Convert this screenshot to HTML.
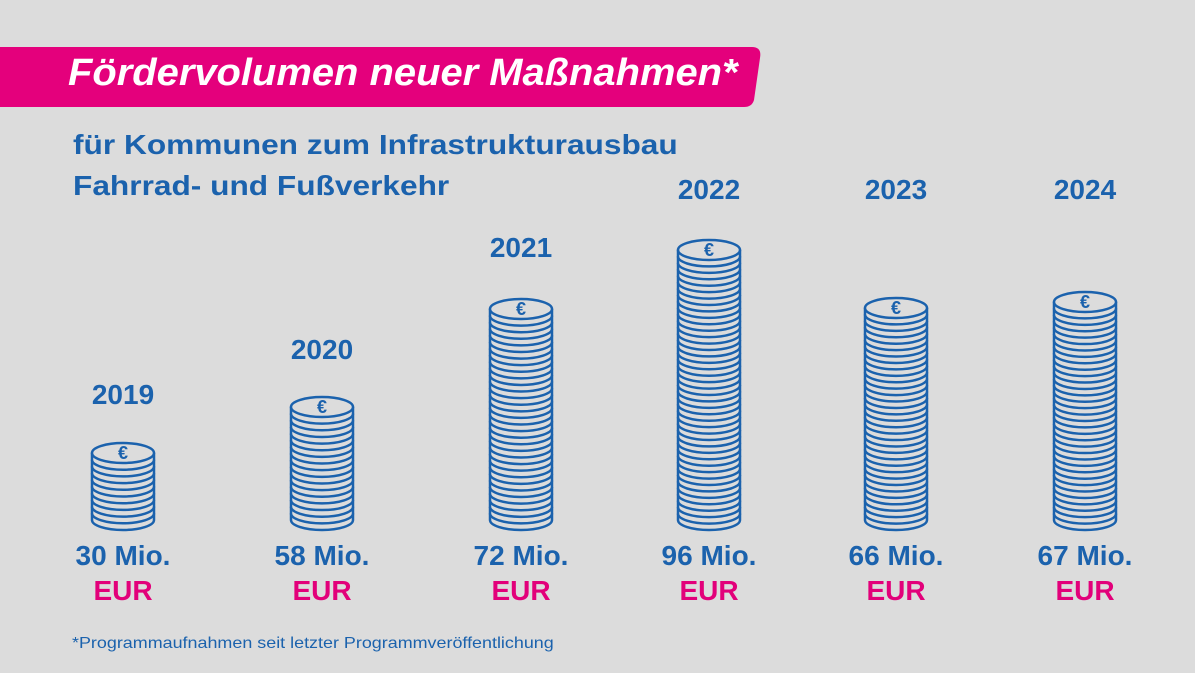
<!DOCTYPE html><html><head><meta charset="utf-8"><style>
body{margin:0;width:1195px;height:673px;background:#dcdcdc;position:relative;overflow:hidden;font-family:"Liberation Sans",sans-serif}
.t{position:absolute;font-weight:bold;color:#1b62ad;white-space:nowrap;transform-origin:0 0}
.c{transform:translateX(-50%);font-size:28px}
.e{color:#e2007a}
</style></head><body>
<svg width="1195" height="673" style="position:absolute;left:0;top:0">
<path d="M0 47 H752 Q762 47 760 58 L754 100 Q752 107 744 107 H0 Z" fill="#e4007c"/>
<g id="g" fill="#dcdcdc" stroke="#1b62ad" stroke-width="2.5"></g>
</svg>
<div class="t" style="left:68px;top:52px;font-size:38px;color:#fff;font-style:italic;transform:scaleX(1.05)">Fördervolumen neuer Maßnahmen*</div>
<div class="t" style="left:73px;top:129px;font-size:28px;transform:scaleX(1.13)">für Kommunen zum Infrastrukturausbau</div>
<div class="t" style="left:73px;top:170px;font-size:28px;transform:scaleX(1.13)">Fahrrad- und Fußverkehr</div>
<div class="t" style="left:72px;top:635px;font-size:16px;font-weight:normal;transform:scaleX(1.12)">*Programmaufnahmen seit letzter Programmveröffentlichung</div>
<div id="lab"></div>
<script>
var d=[[123,443,379,"2019","30"],[322,397,334,"2020","58"],[521,299,232,"2021","72"],[709,240,174,"2022","96"],[896,298,174,"2023","66"],[1085,292,174,"2024","67"]];
var g=document.getElementById('g'),s='',h='';
d.forEach(function(a){var x=a[0],top=a[1],rx=31,ry=10,bot=530;var cy=top+ry;
var n=Math.round((bot-ry-cy)/6.5);var step=(bot-ry-cy)/n;
for(var i=n;i>=1;i--){var y=cy+i*step;s+='<path d="M'+(x-rx)+' '+(y-step)+' L'+(x-rx)+' '+y+' A'+rx+' '+ry+' 0 0 0 '+(x+rx)+' '+y+' L'+(x+rx)+' '+(y-step)+'"/>';}
s+='<ellipse cx="'+x+'" cy="'+cy+'" rx="'+rx+'" ry="'+ry+'"/>';
s+='<text x="'+x+'" y="'+(cy+6)+'" text-anchor="middle" font-size="18" font-weight="bold" fill="#1b62ad" stroke="none" font-family="Liberation Sans">€</text>';
h+='<div class="t c" style="left:'+x+'px;top:'+a[2]+'px">'+a[3]+'</div>';
h+='<div class="t c" style="left:'+x+'px;top:540px">'+a[4]+' Mio.</div>';
h+='<div class="t c e" style="left:'+x+'px;top:575px">EUR</div>';});
g.innerHTML=s;document.getElementById('lab').innerHTML=h;
</script>
</body></html>
